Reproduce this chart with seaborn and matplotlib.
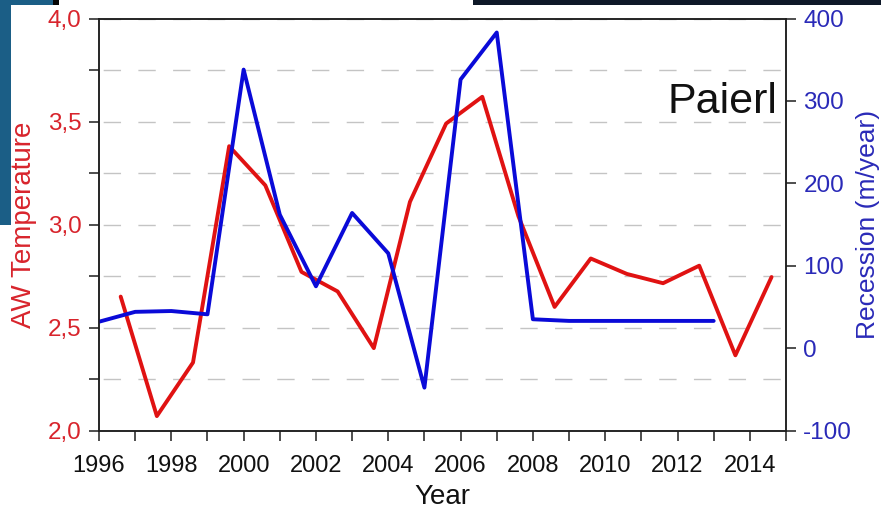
import matplotlib
matplotlib.use("Agg")
import matplotlib.pyplot as plt
import seaborn as sns
import pandas as pd
from matplotlib.patches import Rectangle
from matplotlib.ticker import MultipleLocator, FixedLocator, FuncFormatter

# Atlantic Water temperature (mid-year samples)
temp_years = [1996.6, 1997.6, 1998.6, 1999.6, 2000.6, 2001.6, 2002.6, 2003.6,
              2004.6, 2005.6, 2006.6, 2007.6, 2008.6, 2009.6, 2010.6, 2011.6,
              2012.6, 2013.6, 2014.6]
temp_values = [2.65, 2.07, 2.33, 3.38, 3.19, 2.77, 2.675, 2.40,
               3.11, 3.49, 3.62, 3.04, 2.60, 2.835, 2.76, 2.715,
               2.80, 2.365, 2.745]

# Glacier front recession
rec_years = [1996, 1997, 1998, 1999, 2000, 2001, 2002, 2003, 2004,
             2005, 2006, 2007, 2008, 2009, 2010, 2011, 2012, 2013]
rec_values = [32, 44, 45, 41, 338, 162, 75, 164, 115,
              -48, 326, 383, 35, 33, 33, 33, 33, 33]

x_ticks = [1996, 1998, 2000, 2002, 2004, 2006, 2008, 2010, 2012, 2014]
glacier_name = "Paierl"

RED = "#e01212"
RED_TXT = "#d8242c"
BLUE = "#0a0ad8"
BLUE_TXT = "#2a2ab8"
INK = "#1e1e1e"

sns.set_style("ticks")
plt.rcParams["font.family"] = ["Liberation Sans", "DejaVu Sans"]
plt.rcParams["axes.unicode_minus"] = False

df_temp = pd.DataFrame({"year": temp_years, "temp": temp_values})
df_rec = pd.DataFrame({"year": rec_years, "rec": rec_values})

fig = plt.figure(figsize=(8.81, 5.09), dpi=100)
fig.patch.set_facecolor("white")
ax = fig.add_axes([0.11237, 0.15422, 0.77980, 0.80943])
ax2 = ax.twinx()

sns.lineplot(data=df_temp, x="year", y="temp", ax=ax, color=RED, lw=2.8)
sns.lineplot(data=df_rec, x="year", y="rec", ax=ax2, color=BLUE, lw=2.8)

ax.set_xlim(1996, 2015)
ax.set_ylim(2.0, 4.0)
ax2.set_ylim(-100, 400)

ax.xaxis.set_major_locator(FixedLocator(x_ticks))
ax.xaxis.set_minor_locator(MultipleLocator(1))
ax.yaxis.set_major_locator(MultipleLocator(0.5))
ax.yaxis.set_minor_locator(MultipleLocator(0.25))
ax.yaxis.set_major_formatter(FuncFormatter(lambda v, p: f"{v:.1f}".replace(".", ",")))
ax2.yaxis.set_major_locator(MultipleLocator(100))
ax2.yaxis.set_minor_locator(FixedLocator([]))

ax.grid(False)
ax2.grid(False)
ax.yaxis.grid(True, which="both", color="#c4c4c4", lw=1.0,
              linestyle=(22, (12.5, 12.5)))
ax.set_axisbelow(True)

for a in (ax, ax2):
    for s in a.spines.values():
        s.set_color(INK)
        s.set_linewidth(1.1)

ax.tick_params(axis="both", which="both", direction="out", length=7.5,
               width=1.1, color=INK)
ax.tick_params(axis="y", which="major", labelsize=17.5, labelcolor=RED_TXT, pad=5)
ax.tick_params(axis="x", which="major", labelsize=17, labelcolor="#111111", pad=10)
ax2.tick_params(axis="y", which="both", direction="out", length=7.5,
                width=1.1, color=INK, labelsize=17.5, labelcolor=BLUE_TXT, pad=5)

ax.set_xlabel("Year", fontsize=20, color="#111111", labelpad=5)
ax.set_ylabel("AW Temperature", fontsize=20, color=RED_TXT, labelpad=8)
ax2.set_ylabel("Recession (m/year)", fontsize=19, color=BLUE_TXT, labelpad=3)

ax.text(0.987, 0.771, glacier_name, transform=ax.transAxes, ha="right",
        va="baseline", fontsize=31, color="#111111")

# slide frame pieces around the figure
for (x0, y0, w, h, c) in [
    (0.0, 0.558, 0.0125, 0.442, "#1b5e86"),
    (0.0, 0.990, 0.0602, 0.010, "#1b5e86"),
    (0.0602, 0.990, 0.0068, 0.010, "#050505"),
    (0.537, 0.990, 0.463, 0.010, "#0e1828"),
]:
    fig.add_artist(Rectangle((x0, y0), w, h, transform=fig.transFigure,
                             facecolor=c, edgecolor="none", zorder=10))

fig.savefig("out.png", dpi=100)
